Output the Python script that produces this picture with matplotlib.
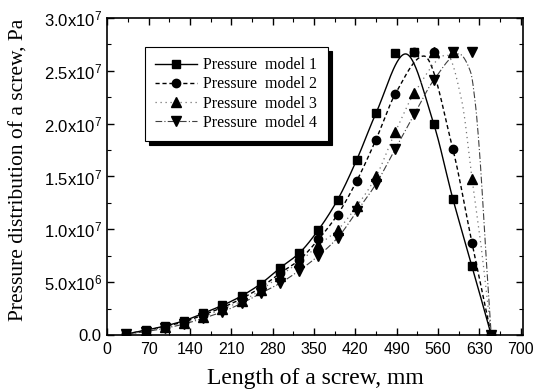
import numpy as np
import matplotlib
matplotlib.use("Agg")
import matplotlib.pyplot as plt
from matplotlib.ticker import MultipleLocator, FuncFormatter

# screw length positions of the computed points, mm
length = [32.5, 65, 97.5, 130, 162.5, 195, 227.5, 260, 292.5, 325,
          357.5, 390, 422.5, 455, 487.5, 520, 552.5, 585, 617.5, 650]

# pressure, in units of 1e6 Pa
model1 = [0.10, 0.45, 0.85, 1.35, 2.05, 2.80, 3.70, 4.85, 6.35, 7.75,
          9.95, 12.8, 16.6, 21.0, 26.7, 26.8, 20.0, 12.9, 6.5, 0.0]
model2 = [0.08, 0.42, 0.80, 1.25, 1.90, 2.60, 3.45, 4.50, 5.85, 7.10,
          9.05, 11.4, 14.6, 18.5, 22.8, 26.8, 26.8, 17.6, 8.7, 0.0]
model3 = [0.06, 0.38, 0.72, 1.15, 1.75, 2.45, 3.20, 4.25, 5.60, 6.90,
          8.50, 9.95, 12.2, 15.0, 19.2, 22.9, 26.8, 26.8, 14.8, 0.0]
model4 = [0.05, 0.32, 0.63, 1.04, 1.58, 2.20, 3.00, 3.95, 4.90, 6.10,
          7.50, 9.20, 11.7, 14.3, 17.6, 20.9, 24.1, 26.8, 26.8, 0.0]

# extra points the fitted curves pass through (peak and steep fall)
extra1_x, extra1_y = [505], [26.6]
extra2_x, extra2_y = [536], [26.4]
extra3_x, extra3_y = [575, 600, 632], [26.5, 22.2, 8.8]
extra4_x, extra4_y = [595, 615, 623.5, 631, 640.5], [26.6, 24.9, 21.7, 16.7, 8.1]

labels = ["Pressure  model 1", "Pressure  model 2", "Pressure  model 3", "Pressure  model 4"]


def pchip(x, y, xs):
    # monotone cubic, just to draw a smooth curve through the points
    x = np.asarray(x, float)
    y = np.asarray(y, float)
    h = np.diff(x)
    d = np.diff(y) / h
    m = np.zeros_like(y)
    m[0], m[-1] = d[0], d[-1]
    for k in range(1, len(x) - 1):
        if d[k - 1] * d[k] > 0:
            w1 = 2 * h[k] + h[k - 1]
            w2 = h[k] + 2 * h[k - 1]
            m[k] = (w1 + w2) / (w1 / d[k - 1] + w2 / d[k])
    i = np.clip(np.searchsorted(x, xs) - 1, 0, len(x) - 2)
    t = (xs - x[i]) / h[i]
    h00 = 2 * t**3 - 3 * t**2 + 1
    h10 = t**3 - 2 * t**2 + t
    h01 = -2 * t**3 + 3 * t**2
    h11 = t**3 - t**2
    return h00 * y[i] + h10 * h[i] * m[i] + h01 * y[i + 1] + h11 * h[i] * m[i + 1]


def curve(ys, ex, ey):
    xs = np.asarray(length)
    ys = np.asarray(ys)
    keep = ys < 26.0  # flat-top points are not on the fitted curve
    cx = np.concatenate([xs[keep], ex])
    cy = np.concatenate([ys[keep], ey])
    order = np.argsort(cx)
    cx, cy = cx[order], cy[order]
    fine = np.linspace(cx[0], cx[-1], 400)
    return fine, pchip(cx, cy, fine) * 1e6


plt.rcParams["font.family"] = ["Liberation Sans", "DejaVu Sans"]
plt.rcParams["mathtext.default"] = "regular"

fig = plt.figure(figsize=(5.36, 3.92), dpi=100)
ax = fig.add_axes([0.2, 0.1454, 0.776, 0.8087])

series = [
    (model1, extra1_x, extra1_y, "s", dict(ls="-", lw=1.0, color="black"), 5.5),
    (model2, extra2_x, extra2_y, "o", dict(ls=(0, (3, 2)), lw=1.0, color="black"), 6),
    (model3, extra3_x, extra3_y, "^", dict(ls=(0, (1, 3)), lw=0.9, color="0.45"), 6.5),
    (model4, extra4_x, extra4_y, "v", dict(ls=(0, (6, 2, 1, 2)), lw=0.8, color="0.25"), 6.5),
]

handles = []
for (ys, ex, ey, mk, style, ms), lab in zip(series, labels):
    fx, fy = curve(ys, ex, ey)
    ax.plot(fx, fy, **style)
    ax.plot(length, np.asarray(ys) * 1e6, ls="none", marker=mk, ms=ms,
            color="black", zorder=3)
    h, = ax.plot([], [], marker=mk, ms=ms, mfc="black", mec="black", **style)
    handles.append(h)

ax.set_xlim(0, 704)
ax.set_ylim(0, 3.0e7)
ax.xaxis.set_major_locator(MultipleLocator(70))
ax.xaxis.set_minor_locator(MultipleLocator(35))
ax.yaxis.set_major_locator(MultipleLocator(5e6))
ax.yaxis.set_minor_locator(MultipleLocator(2.5e6))


def sci(v, pos):
    if abs(v) < 1:
        return "0.0"
    if v < 0:
        return ""
    e = int(np.floor(np.log10(v)))
    return "%.1fx10$^{%d}$" % (v / 10**e, e)


ax.yaxis.set_major_formatter(FuncFormatter(sci))
ax.tick_params(which="both", direction="in", top=True, right=True)
ax.tick_params(axis="x", labelsize=11.5, pad=5)
ax.tick_params(axis="y", labelsize=12, pad=4)
ax.tick_params(which="major", length=5, width=1)
ax.tick_params(which="minor", length=3, width=0.8)
for s in ax.spines.values():
    s.set_linewidth(1.2)

ax.set_xlabel("Length of a screw, mm", family=["Liberation Serif"], fontsize=17, labelpad=8)
ax.set_ylabel("Pressure distribution of a screw, Pa", family=["Liberation Serif"],
              fontsize=15.5)
ax.yaxis.set_label_coords(-0.19, 0.52)

leg = ax.legend(handles, labels, loc="upper left", bbox_to_anchor=(0.091, 0.909),
                borderaxespad=0, fancybox=False, edgecolor="black", framealpha=1,
                shadow={"ox": 3, "oy": -3, "facecolor": "black", "edgecolor": "black", "alpha": 1},
                prop={"family": "Liberation Serif", "size": 11.5},
                handlelength=2.6, handletextpad=0.4, labelspacing=0.2,
                borderpad=0.65)
leg.get_frame().set_linewidth(0.8)

fig.savefig("out.png", dpi=100)
